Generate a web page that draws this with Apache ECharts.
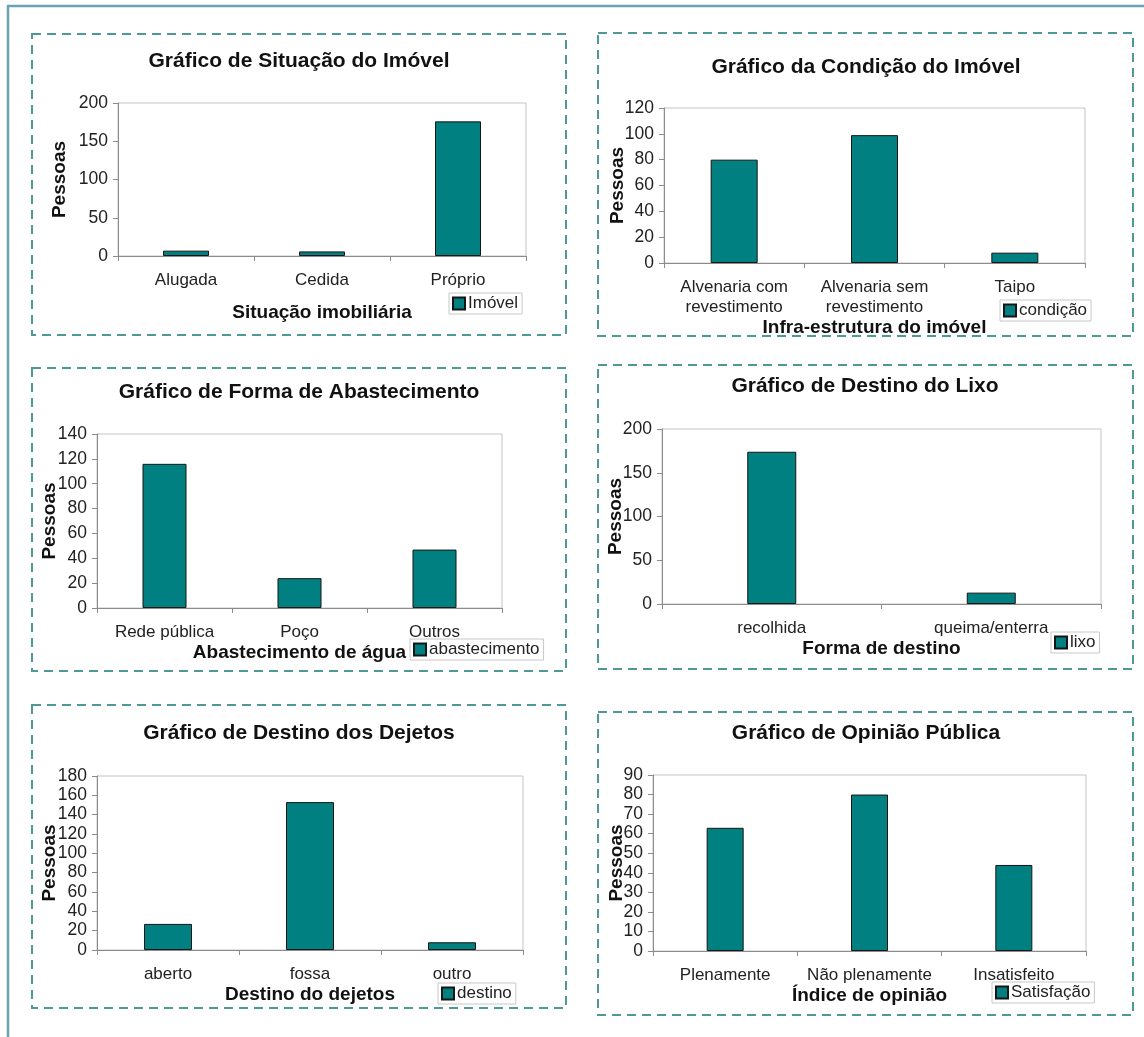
<!DOCTYPE html>
<html>
<head>
<meta charset="utf-8">
<script src="https://cdn.jsdelivr.net/npm/echarts@6/dist/echarts.min.js"></script>
<style>
  html, body { margin: 0; padding: 0; background: #ffffff; }
  #chart { width: 1144px; height: 1037px; }
</style>
</head>
<body>
<div id="chart"></div>
<script>
// Situação do imóvel
const situacaoCategorias = ['Alugada', 'Cedida', 'Próprio'];
const situacaoPessoas = [7, 6, 176];

// Condição do imóvel
const condicaoCategorias = ['Alvenaria com\nrevestimento', 'Alvenaria sem\nrevestimento', 'Taipo'];
const condicaoPessoas = [80, 99, 8];

// Forma de abastecimento de água
const abastecimentoCategorias = ['Rede pública', 'Poço', 'Outros'];
const abastecimentoPessoas = [116, 24, 47];

// Destino do lixo
const lixoCategorias = ['recolhida', 'queima/enterra'];
const lixoPessoas = [174, 13];

// Destino dos dejetos
const dejetosCategorias = ['aberto', 'fossa', 'outro'];
const dejetosPessoas = [27, 153, 8];

// Opinião pública
const opiniaoCategorias = ['Plenamente', 'Não plenamente', 'Insatisfeito'];
const opiniaoPessoas = [63, 80, 44];

const FONT = '"Liberation Sans", Arial, sans-serif';
const BAR_COLOR = '#008080';
const FRAME_COLOR = '#4f9898';

// One entry per chart panel: texts, data and where it sits on the page.
const panels = [
  {
    title: 'Gráfico de Situação do Imóvel', xName: 'Situação imobiliária', seriesName: 'Imóvel',
    categories: situacaoCategorias, values: situacaoPessoas, max: 200, interval: 50,
    frame: [32, 34, 534, 301], titlePos: [299, 61],
    grid: { left: 118, top: 103, width: 408, height: 153 },
    yNameGap: 49, xNameGap: 47, barWidth: 46, legendPos: [449, 293]
  },
  {
    title: 'Gráfico da Condição do Imóvel', xName: 'Infra-estrutura do imóvel', seriesName: 'condição',
    categories: condicaoCategorias, values: condicaoPessoas, max: 120, interval: 20,
    frame: [598, 33, 535, 303], titlePos: [866, 67],
    grid: { left: 664, top: 108, width: 421, height: 155 },
    yNameGap: 37, xNameGap: 52, barWidth: 47, legendPos: [1000, 300]
  },
  {
    title: 'Gráfico de Forma de Abastecimento', xName: 'Abastecimento de água', seriesName: 'abastecimento',
    categories: abastecimentoCategorias, values: abastecimentoPessoas, max: 140, interval: 20,
    frame: [32, 368, 534, 303], titlePos: [299, 392],
    grid: { left: 97, top: 434, width: 405, height: 174 },
    yNameGap: 38, xNameGap: 33, barWidth: 44, legendPos: [410, 639]
  },
  {
    title: 'Gráfico de Destino do Lixo', xName: 'Forma de destino', seriesName: 'lixo',
    categories: lixoCategorias, values: lixoPessoas, max: 200, interval: 50,
    frame: [598, 365, 535, 304], titlePos: [865, 386],
    grid: { left: 662, top: 429, width: 439, height: 175 },
    yNameGap: 37, xNameGap: 32, barWidth: 49, legendPos: [1051, 632]
  },
  {
    title: 'Gráfico de Destino dos Dejetos', xName: 'Destino do dejetos', seriesName: 'destino',
    categories: dejetosCategorias, values: dejetosPessoas, max: 180, interval: 20,
    frame: [32, 705, 534, 303], titlePos: [299, 733],
    grid: { left: 97, top: 776, width: 426, height: 174 },
    yNameGap: 38, xNameGap: 32, barWidth: 48, legendPos: [438, 983]
  },
  {
    title: 'Gráfico de Opinião Pública', xName: 'Índice de opinião', seriesName: 'Satisfação',
    categories: opiniaoCategorias, values: opiniaoPessoas, max: 90, interval: 10,
    frame: [598, 712, 535, 303], titlePos: [866, 733],
    grid: { left: 653, top: 775, width: 433, height: 176 },
    yNameGap: 27, xNameGap: 32, barWidth: 37, legendPos: [992, 982]
  }
];

const graphics = [
  // page frame: top and left edges
  { type: 'line', silent: true, shape: { x1: 7, y1: 6, x2: 1144, y2: 6 },
    style: { stroke: '#6aa3b6', lineWidth: 2.5 } },
  { type: 'line', silent: true, shape: { x1: 8, y1: 5, x2: 8, y2: 1037 },
    style: { stroke: '#6aa3b6', lineWidth: 2.5 } }
];

panels.forEach(p => {
  graphics.push({
    type: 'rect', silent: true,
    shape: { x: p.frame[0], y: p.frame[1], width: p.frame[2], height: p.frame[3] },
    style: { fill: 'none', stroke: FRAME_COLOR, lineWidth: 2, lineDash: [9, 6] }
  });
  graphics.push({
    type: 'text', silent: true, x: p.titlePos[0], y: p.titlePos[1],
    style: {
      text: p.title, fill: '#111', fontSize: 21, fontWeight: 'bold', fontFamily: FONT,
      align: 'center', verticalAlign: 'middle'
    }
  });
});

const option = {
  animation: false,
  backgroundColor: '#ffffff',
  textStyle: { fontFamily: FONT },
  graphic: graphics,
  grid: panels.map(p => Object.assign({
    show: true, borderColor: '#c4c4c4', borderWidth: 1, backgroundColor: 'transparent'
  }, p.grid)),
  xAxis: panels.map((p, i) => ({
    type: 'category', gridIndex: i, data: p.categories,
    name: p.xName, nameLocation: 'middle', nameGap: p.xNameGap,
    nameTextStyle: { fontSize: 19, fontWeight: 'bold', color: '#111', fontFamily: FONT },
    axisLine: { show: true, lineStyle: { color: '#8c8c8c', width: 1 } },
    axisTick: { show: true, alignWithLabel: false, interval: 0, length: 5, lineStyle: { color: '#8c8c8c' } },
    axisLabel: { interval: 0, margin: 14, fontSize: 17, lineHeight: 20, color: '#222', fontFamily: FONT },
    splitLine: { show: false }
  })),
  yAxis: panels.map((p, i) => ({
    type: 'value', gridIndex: i, min: 0, max: p.max, interval: p.interval,
    name: 'Pessoas', nameLocation: 'middle', nameRotate: 90, nameGap: p.yNameGap,
    nameMoveOverlap: false,
    nameTextStyle: { fontSize: 19, fontWeight: 'bold', color: '#111', fontFamily: FONT },
    axisLine: { show: true, lineStyle: { color: '#8c8c8c', width: 1 } },
    axisTick: { show: true, length: 5, lineStyle: { color: '#8c8c8c' } },
    axisLabel: { margin: 10, fontSize: 17.5, color: '#222', fontFamily: FONT },
    splitLine: { show: false }
  })),
  legend: panels.map(p => ({
    data: [p.seriesName], left: p.legendPos[0], top: p.legendPos[1],
    orient: 'horizontal', icon: 'rect', itemWidth: 12, itemHeight: 12, itemGap: 4,
    padding: [2, 4, 2, 3], borderColor: '#c8c8c8', borderWidth: 1, backgroundColor: '#ffffff',
    selectedMode: false,
    textStyle: { fontSize: 17, color: '#222', fontFamily: FONT, padding: [0, 0, 0, -2] }
  })),
  series: panels.map((p, i) => ({
    type: 'bar', name: p.seriesName, xAxisIndex: i, yAxisIndex: i,
    data: p.values, barWidth: p.barWidth,
    itemStyle: { color: BAR_COLOR, borderColor: '#151515', borderWidth: 1 }
  }))
};

const chart = echarts.init(document.getElementById('chart'), null, { renderer: 'canvas' });
chart.setOption(option);
</script>
</body>
</html>
